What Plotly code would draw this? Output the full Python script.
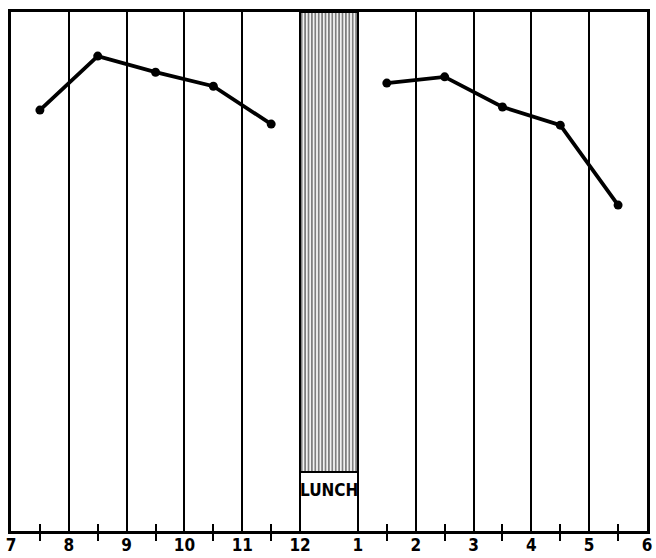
import plotly.graph_objects as go

# Data (decimal hours, 24h clock) and relative output values
morning_hours = [7.5, 8.5, 9.5, 10.5, 11.5]
morning_values = [81.1, 91.5, 88.4, 85.7, 78.4]
afternoon_hours = [13.5, 14.5, 15.5, 16.5, 17.5]
afternoon_values = [86.3, 87.5, 81.7, 78.2, 62.8]

hour_ticks = [7, 8, 9, 10, 11, 12, 13, 14, 15, 16, 17, 18]
hour_labels = ["7", "8", "9", "10", "11", "12", "1", "2", "3", "4", "5", "6"]
half_ticks = [7.5, 8.5, 9.5, 10.5, 11.5, 13.5, 14.5, 15.5, 16.5, 17.5]

lunch_center = [12.5]
lunch_base = [11.4]
lunch_top = [100 - 11.4]

FONT = "Liberation Sans Narrow, DejaVu Sans Condensed, Arial Narrow, sans-serif"

fig = go.Figure()

fig.add_trace(go.Bar(
    x=lunch_center, y=lunch_top, base=lunch_base, width=1,
    marker=dict(color="white", line=dict(color="black", width=2),
                pattern=dict(shape="|", size=3.4, solidity=0.55,
                             fgcolor="black", bgcolor="white")),
    showlegend=False, hoverinfo="skip",
))

for xs, ys in [(morning_hours, morning_values), (afternoon_hours, afternoon_values)]:
    fig.add_trace(go.Scatter(
        x=xs, y=ys, mode="lines+markers",
        line=dict(color="black", width=3.8),
        marker=dict(color="black", size=9),
        showlegend=False,
    ))

# secondary x axis to draw inside portion of the half-hour ticks
fig.add_trace(go.Scatter(x=[7, 18], y=[None, None], xaxis="x2", showlegend=False,
                         hoverinfo="skip"))

fig.add_annotation(x=12.5, y=7.9, text="LUNCH", showarrow=False,
                   font=dict(family=FONT, size=17, color="black", weight="bold"))

fig.update_layout(
    width=656, height=558,
    margin=dict(l=11, r=9, t=12, b=27, autoexpand=False),
    plot_bgcolor="white", paper_bgcolor="white",
    bargap=0,
    xaxis=dict(
        range=[7, 18], tickvals=hour_ticks, ticktext=hour_labels,
        showgrid=True, gridcolor="black", gridwidth=2,
        ticks="", ticklen=0, automargin=False,
        minor=dict(tickvals=half_ticks, ticks="outside", ticklen=7,
                   tickwidth=2, tickcolor="black", showgrid=False),
        showline=True, linecolor="black", linewidth=3, mirror=True,
        tickfont=dict(family=FONT, size=17, color="black", weight="bold"),
        ticklabelstandoff=-3,
        zeroline=False, fixedrange=True,
    ),
    xaxis2=dict(
        range=[7, 18], overlaying="x", side="bottom", anchor="y",
        tickvals=half_ticks, ticks="inside", ticklen=7, tickwidth=2,
        tickcolor="black", showticklabels=False, showgrid=False,
        showline=False, zeroline=False, automargin=False,
    ),
    yaxis=dict(
        range=[0, 100], showticklabels=False, showgrid=False, ticks="",
        showline=True, linecolor="black", linewidth=3, mirror=True,
        zeroline=False, fixedrange=True, automargin=False,
    ),
)

fig.write_html("out.html", config={"displayModeBar": False},
               post_script="document.body.style.margin='0px';document.body.style.overflow='hidden';")
